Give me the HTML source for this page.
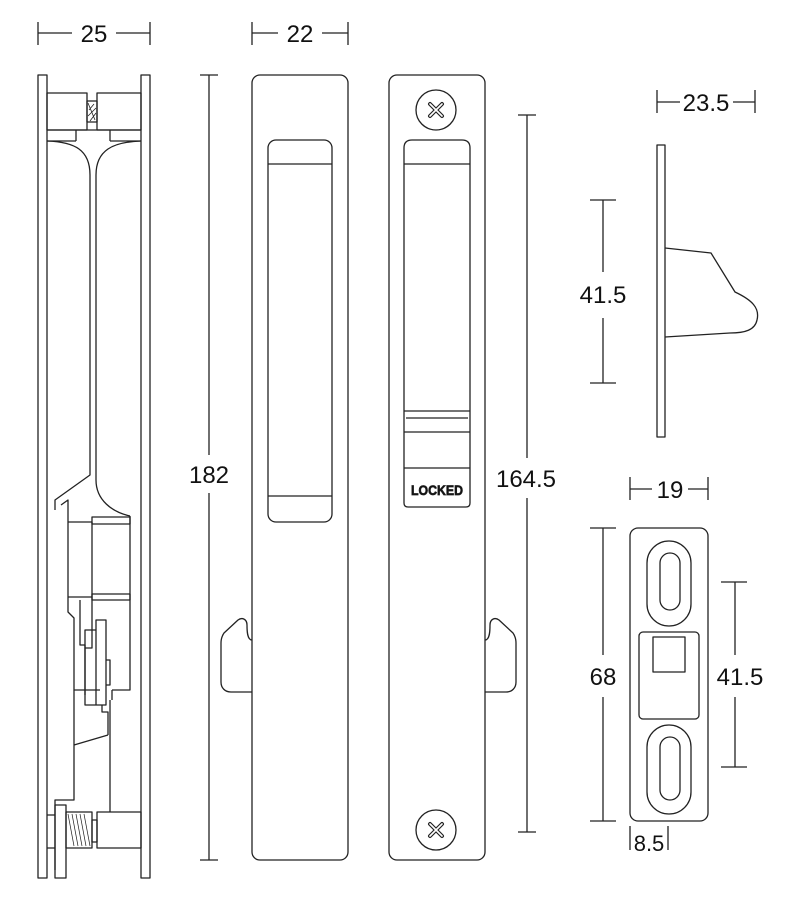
<!DOCTYPE html>
<html><head><meta charset="utf-8"><style>
html,body{margin:0;padding:0;background:#fff;}
svg{display:block;}
text{font-family:"Liberation Sans","DejaVu Sans",sans-serif;fill:#111;}
</style></head><body>
<svg width="800" height="898" viewBox="0 0 800 898" xmlns="http://www.w3.org/2000/svg">
<g fill="none" stroke="#222" stroke-width="1.3" stroke-linejoin="round">
<!-- top dims -->
<path d="M38 22V45M38 33H72M116 33H150M150 22V45"/>
<path d="M252 22V45M252 33H278M322 33H348M348 22V45"/>
<!-- panel 1 -->
<rect x="38" y="75" width="9" height="803"/>
<rect x="141" y="75" width="9" height="803"/>
<rect x="47" y="93" width="40" height="37"/>
<rect x="97" y="93" width="44" height="37"/>
<rect x="87" y="101" width="10" height="21"/>
<path d="M88 103L95 120M89 110L94 104M88 116L96 108M90 121L96 113" stroke-width="0.8"/>
<path d="M47 130H141M76 130V141M110 130V141M76 141H47M110 141H141"/>
<path d="M47 141C75 142 90 150 90 175V475L55 500V510"/>
<path d="M141 141C113 142 96 150 96 175V480C96 500 112 512 130 516"/>
<path d="M61 505L68 500V522H92M68 522V612L74 618V690L100 690"/>
<path d="M92 517H130V524H92ZM92 594H130V600H92Z"/>
<path d="M68 597H92M80 600V645H85V695"/>
<path d="M92 522V648H85"/>
<path d="M130 516V690H112M112 690V700"/>
<path d="M85 630H96V705H85ZM96 620H106V705H96Z"/>
<path d="M106 660H110V685H106M102 705V712H108V735"/>
<path d="M108 735L74 745M74 690V800H55V870"/>
<path d="M110 700V812"/>
<path d="M66 805V878H55V805Z"/>
<path d="M47 815H55M47 848H55"/>
<rect x="66" y="812" width="26" height="36"/>
<path d="M68 814L74 846M72 814L78 846M76 814L82 846M80 814L86 846M84 814L90 846" stroke-width="0.7"/>
<rect x="92" y="820" width="5" height="22"/>
<rect x="97" y="812" width="44" height="36"/>
<!-- 182 dim -->
<path d="M200 75H218M209 75V455M209 493V860M200 860H218"/>
<!-- panel 2 -->
<rect x="252" y="75" width="96" height="785" rx="8"/>
<rect x="268" y="140" width="64" height="382" rx="8"/>
<path d="M268 164H332M268 496H332"/>
<path d="M252 640C247 640 247 630 247 625C247 619 242 617 238 620L224 633C222 636 221 640 221 643V682C221 688 225 692 231 692H252"/>
<!-- panel 3 -->
<rect x="389" y="75" width="96" height="785" rx="8"/>
<circle cx="436" cy="110" r="20"/>
<circle cx="436" cy="830" r="20"/>
<path d="M404 411V148Q404 140 412 140H462Q470 140 470 148V411"/>
<path d="M404 164H470"/>
<path d="M404 411H470M406 418H468M404 432H470M404 468H470M404 411V503Q404 507 408 507H466Q470 507 470 503V411"/>
<path d="M485 640C490 640 490 630 490 625C490 619 495 617 499 620L513 633C515 636 516 640 516 643V682C516 688 512 692 506 692H485"/>
<!-- 164.5 dim -->
<path d="M518 115H536M527 115V458M527 498V832M518 832H536"/>
<!-- top right -->
<path d="M657 90V113M657 102H680M733 102H755M755 90V113"/>
<rect x="657" y="145" width="8" height="292"/>
<path d="M665 248L711 253L735 292C752 300 760 308 757 320C755 330 745 333 730 333L665 337"/>
<path d="M590 200H616M603 200V272M603 318V383M590 383H616"/>
<!-- bottom right -->
<path d="M630 477V500M630 489H652M688 489H708M708 477V500"/>
<rect x="630" y="528" width="78" height="293" rx="8"/>
<rect x="647" y="541" width="44" height="85" rx="22"/>
<rect x="660" y="553" width="20" height="57" rx="10"/>
<rect x="639" y="632" width="60" height="87" rx="4"/>
<rect x="653" y="637" width="32" height="35"/>
<rect x="647" y="725" width="44" height="89" rx="22"/>
<rect x="660" y="737" width="20" height="63" rx="10"/>
<path d="M590 528H616M603 528V655M603 697V821M590 821H616"/>
<path d="M721 582H747M735 582V655M735 697V767M721 767H747"/>
<path d="M630 826V850M668 826V850"/>
</g>
<g fill="none" stroke="#222" stroke-width="4" stroke-linecap="round">
<path d="M430 104L442 116M442 104L430 116M430 824L442 836M442 824L430 836"/>
</g>
<g fill="none" stroke="#fff" stroke-width="1.6" stroke-linecap="round">
<path d="M430 104L442 116M442 104L430 116M430 824L442 836M442 824L430 836"/>
</g>
<text x="94" y="42" font-size="24" text-anchor="middle">25</text>
<text x="300" y="42" font-size="24" text-anchor="middle">22</text>
<text x="209" y="483" font-size="24" text-anchor="middle">182</text>
<text x="526" y="487" font-size="24" text-anchor="middle">164.5</text>
<text x="706" y="111" font-size="24" text-anchor="middle">23.5</text>
<text x="603" y="303" font-size="24" text-anchor="middle">41.5</text>
<text x="670" y="498" font-size="24" text-anchor="middle">19</text>
<text x="603" y="685" font-size="24" text-anchor="middle">68</text>
<text x="740" y="685" font-size="24" text-anchor="middle">41.5</text>
<text x="649" y="851" font-size="22" text-anchor="middle">8.5</text>
<text x="437" y="495" font-size="14" font-weight="bold" text-anchor="middle" fill="#fff" stroke="#222" stroke-width="0.7" textLength="52" lengthAdjust="spacingAndGlyphs">LOCKED</text>
</svg>
</body></html>
